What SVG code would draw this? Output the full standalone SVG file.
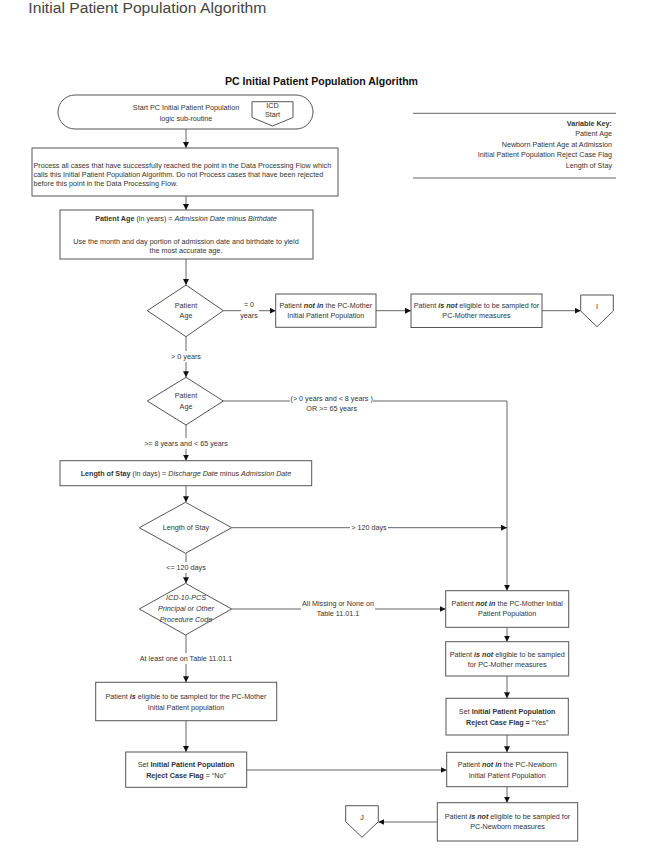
<svg xmlns="http://www.w3.org/2000/svg" width="653" height="850" viewBox="0 0 653 850">
<style>
text{font-family:"Liberation Sans",Arial,sans-serif;font-size:7.2px;fill:#333}
.c{text-anchor:middle}
.r{text-anchor:end}
.b{font-weight:bold}
.i{font-style:italic}
.bi{font-weight:bold;font-style:italic}
.box{fill:#fff;stroke:#555;stroke-width:1}
.ln{fill:none;stroke:#666;stroke-width:1}
.ar{fill:none;stroke:#666;stroke-width:1;marker-end:url(#ah)}
</style>
<defs>
<marker id="ah" viewBox="0 0 10 10" refX="10" refY="5" markerWidth="6" markerHeight="6" markerUnits="userSpaceOnUse" orient="auto"><path d="M0,0 L10,5 L0,10 z" fill="#111"/></marker>
</defs>
<rect width="653" height="850" fill="#fff"/>
<text x="28.3" y="13.3" style="font-size:15.3px;fill:#444" textLength="238" lengthAdjust="spacingAndGlyphs">Initial Patient Population Algorithm</text>
<text x="225" y="84.7" class="b" style="font-size:11.2px;fill:#111" textLength="193" lengthAdjust="spacingAndGlyphs">PC Initial Patient Population Algorithm</text>

<g id="key">
<line x1="413" y1="113.3" x2="616" y2="113.3" class="ln"/>
<line x1="413" y1="178" x2="616" y2="178" class="ln"/>
<text x="612" y="125.8" class="r b">Variable Key:</text>
<text x="612" y="136.2" class="r">Patient Age</text>
<text x="612" y="146.5" class="r">Newborn Patient Age at Admission</text>
<text x="612" y="157.2" class="r">Initial Patient Population Reject Case Flag</text>
<text x="612" y="167.5" class="r">Length of Stay</text>
</g>

<g id="connectors">
<line x1="186" y1="129" x2="186" y2="148" class="ar"/>
<line x1="186" y1="196" x2="186" y2="210" class="ar"/>
<line x1="186" y1="259" x2="186" y2="285" class="ar"/>
<line x1="223.3" y1="310.7" x2="241" y2="310.7" class="ln"/>
<line x1="259" y1="310.7" x2="275.7" y2="310.7" class="ar"/>
<line x1="376" y1="310.7" x2="411" y2="310.7" class="ar"/>
<line x1="542" y1="310.7" x2="580.7" y2="310.7" class="ar"/>
<line x1="186" y1="336.7" x2="186" y2="351" class="ln"/>
<line x1="186" y1="362" x2="186" y2="377.3" class="ar"/>
<line x1="223.3" y1="401" x2="290" y2="401" class="ln"/>
<polyline points="373,401 507,401 507,590.7" class="ar"/>
<line x1="186" y1="425" x2="186" y2="438" class="ln"/>
<line x1="186" y1="449" x2="186" y2="460.7" class="ar"/>
<line x1="186" y1="485.7" x2="186" y2="502.3" class="ar"/>
<line x1="231.7" y1="527.7" x2="350" y2="527.7" class="ln"/>
<line x1="388" y1="527.7" x2="507" y2="527.7" class="ar"/>
<line x1="186" y1="553.3" x2="186" y2="562" class="ln"/>
<line x1="186" y1="573" x2="186" y2="583.3" class="ar"/>
<line x1="231.7" y1="609" x2="301" y2="609" class="ln"/>
<line x1="375" y1="609" x2="445.7" y2="609" class="ar"/>
<line x1="186" y1="635" x2="186" y2="653" class="ln"/>
<line x1="186" y1="664" x2="186" y2="682.3" class="ar"/>
<line x1="186" y1="720.7" x2="186" y2="752" class="ar"/>
<line x1="246.7" y1="770" x2="446.7" y2="770" class="ar"/>
<line x1="507" y1="627.3" x2="507" y2="641.7" class="ar"/>
<line x1="507" y1="676" x2="507" y2="698.3" class="ar"/>
<line x1="507" y1="735" x2="507" y2="752.3" class="ar"/>
<line x1="507" y1="786.7" x2="507" y2="802.7" class="ar"/>
<line x1="437.3" y1="822" x2="378.3" y2="822" class="ar"/>
<text x="249" y="306.8" class="c">= 0</text>
<text x="249" y="318.2" class="c">years</text>
<text x="186" y="358.5" class="c">&gt; 0 years</text>
<text x="331.7" y="400.5" class="c">(&gt; 0 years and &lt; 8 years )</text>
<text x="331.7" y="410.8" class="c">OR &gt;= 65 years</text>
<text x="186" y="445.8" class="c">&gt;= 8 years and &lt; 65 years</text>
<text x="369" y="530.2" class="c">&gt; 120 days</text>
<text x="186" y="570.2" class="c">&lt;= 120 days</text>
<text x="338" y="605.8" class="c">All Missing or None on</text>
<text x="338" y="616.2" class="c">Table 11.01.1</text>
<text x="186" y="660.8" class="c">At least one on Table 11.01.1</text>
</g>

<g id="start">
<rect x="58" y="95" width="255" height="34" rx="17" class="box"/>
<text x="186" y="110.2" class="c">Start PC Initial Patient Population</text>
<text x="186" y="120.8" class="c">logic sub-routine</text>
</g>
<g id="icd-start">
<polygon points="252,101.7 293,101.7 293,117.5 272.5,126 252,117.5" class="box"/>
<text x="272.5" y="108.2" class="c">ICD</text>
<text x="272.5" y="116.5" class="c">Start</text>
</g>
<g id="process">
<rect x="32" y="148" width="306" height="48" class="box"/>
<text x="33.5" y="168.2">Process all cases that have successfully reached the point in the Data Processing Flow which</text>
<text x="33.5" y="176.8">calls this Initial Patient Population Algorithm.  Do not Process cases that have been rejected</text>
<text x="33.5" y="185.8">before this point in the Data Processing Flow.</text>
</g>
<g id="age-calc">
<rect x="60" y="210" width="253" height="49" class="box"/>
<text x="186" y="220.8" class="c"><tspan class="b">Patient Age</tspan> (in years) = <tspan class="i">Admission Date</tspan> minus <tspan class="i">Birthdate</tspan></text>
<text x="186" y="243.5" class="c">Use the month and day portion of admission date and birthdate to yield</text>
<text x="186" y="252.8" class="c">the most accurate age.</text>
</g>
<g id="age-dec1">
<polygon points="186,285 223.3,310.7 186,336.7 147.3,310.7" class="box"/>
<text x="186" y="307.5" class="c">Patient</text>
<text x="186" y="318.2" class="c">Age</text>
</g>
<g id="not-mother-1">
<rect x="275.7" y="294" width="100.3" height="33.3" class="box"/>
<text x="325.8" y="307.5" class="c">Patient <tspan class="bi">not in</tspan> the PC-Mother</text>
<text x="325.8" y="318.2" class="c">Initial Patient Population</text>
</g>
<g id="not-elig-mother-1">
<rect x="411" y="294" width="131" height="33.5" class="box"/>
<text x="476.5" y="307.5" class="c">Patient <tspan class="bi">is not</tspan> eligible to be sampled for</text>
<text x="476.5" y="318.2" class="c">PC-Mother measures</text>
</g>
<g id="conn-i">
<polygon points="580.7,295 613.3,295 613.3,311 597,326.7 580.7,311" class="box"/>
<text x="597" y="309.2" class="c">I</text>
</g>
<g id="age-dec2">
<polygon points="186,377.3 223.3,401 186,425 147.3,401" class="box"/>
<text x="186" y="398.2" class="c">Patient</text>
<text x="186" y="408.5" class="c">Age</text>
</g>
<g id="los-calc">
<rect x="60" y="460.7" width="251.7" height="25" class="box"/>
<text x="186" y="475.8" class="c"><tspan class="b">Length of Stay</tspan> (in days) = <tspan class="i">Discharge Date</tspan> minus <tspan class="i">Admission Date</tspan></text>
</g>
<g id="los-dec">
<polygon points="185.5,502.3 231.7,527.7 185.5,553.3 139.3,527.7" class="box"/>
<text x="186" y="530.2" class="c">Length of Stay</text>
</g>
<g id="icd-dec">
<polygon points="185.5,583.3 231.7,609 185.5,635 139.3,609" class="box"/>
<text x="186" y="599.8" class="c i">ICD-10-PCS</text>
<text x="186" y="611.2" class="c i">Principal or Other</text>
<text x="186" y="621.5" class="c i">Procedure Code</text>
</g>
<g id="eligible">
<rect x="95.7" y="682.3" width="181" height="38.4" class="box"/>
<text x="186" y="698.5" class="c">Patient <tspan class="bi">is</tspan> eligible to be sampled for the PC-Mother</text>
<text x="186" y="709.5" class="c">Initial Patient population</text>
</g>
<g id="flag-no">
<rect x="125.7" y="752" width="121" height="35.3" class="box"/>
<text x="186" y="766.8" class="c">Set <tspan class="b">Initial Patient Population</tspan></text>
<text x="186" y="778.2" class="c"><tspan class="b">Reject Case Flag</tspan> = “No”</text>
</g>
<g id="not-mother-2">
<rect x="445.7" y="590.7" width="123" height="36.6" class="box"/>
<text x="507.2" y="605.8" class="c">Patient <tspan class="bi">not in</tspan> the PC-Mother Initial</text>
<text x="507.2" y="616.2" class="c">Patient Population</text>
</g>
<g id="not-elig-mother-2">
<rect x="445.7" y="641.7" width="123" height="34.3" class="box"/>
<text x="507.2" y="656.5" class="c">Patient <tspan class="bi">is not</tspan> eligible to be sampled</text>
<text x="507.2" y="666.5" class="c">for PC-Mother measures</text>
</g>
<g id="flag-yes">
<rect x="446" y="698.3" width="122.3" height="36.7" class="box"/>
<text x="507.2" y="713.8" class="c">Set <tspan class="b">Initial Patient Population</tspan></text>
<text x="507.2" y="724.8" class="c"><tspan class="b">Reject Case Flag =</tspan> “Yes”</text>
</g>
<g id="not-newborn">
<rect x="446.7" y="752.3" width="121" height="34.4" class="box"/>
<text x="507.2" y="767.2" class="c">Patient <tspan class="bi">not in</tspan> the PC-Newborn</text>
<text x="507.2" y="777.5" class="c">Initial Patient Population</text>
</g>
<g id="not-elig-newborn">
<rect x="437.3" y="802.7" width="140.4" height="38.3" class="box"/>
<text x="507.5" y="818.5" class="c">Patient <tspan class="bi">is not</tspan> eligible to be sampled for</text>
<text x="507.5" y="829.2" class="c">PC-Newborn measures</text>
</g>
<g id="conn-j">
<polygon points="345.7,805.7 378.3,805.7 378.3,821.7 362,837.3 345.7,821.7" class="box"/>
<text x="362" y="820.2" class="c">J</text>
</g>
</svg>
